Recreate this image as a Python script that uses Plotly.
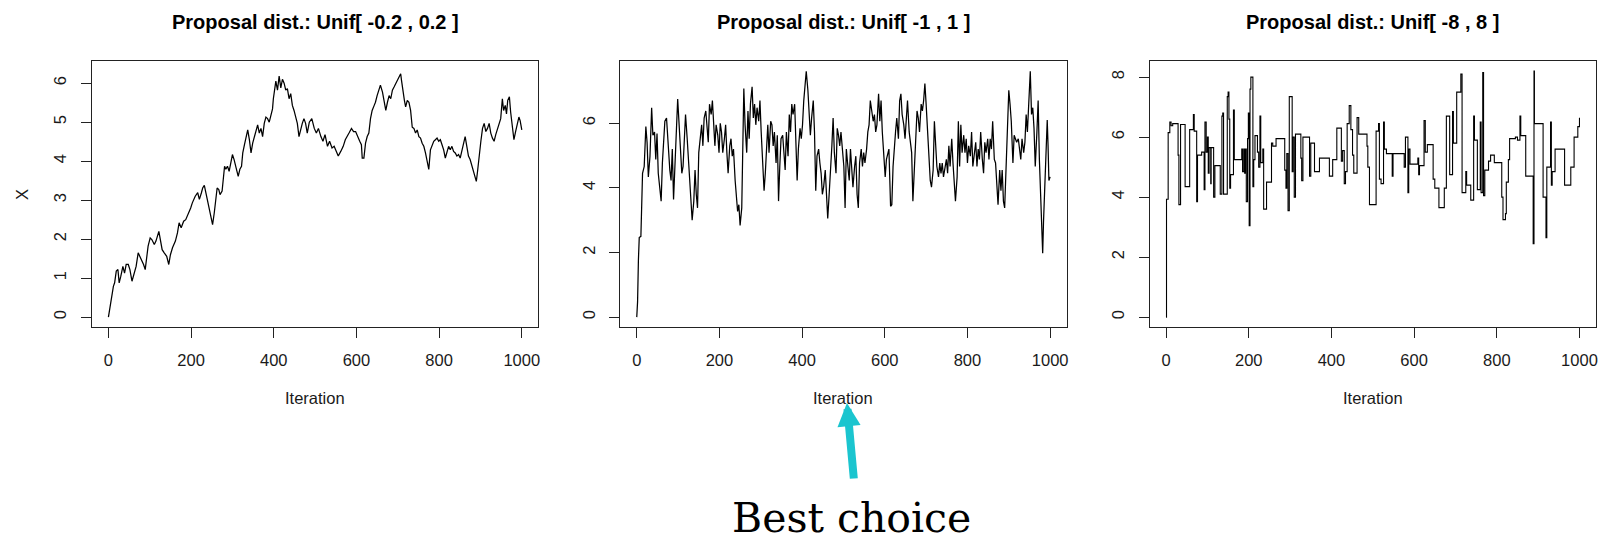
import plotly.graph_objects as go

# ---------------- data ----------------
# Panel 1: Unif[-0.2, 0.2] proposal   (iteration, X)
P1 = [(0,0),(4,0.25),(7,0.54),(12,0.79),(15,0.88),(19,1.18),(23,1.22),(26,0.88),(30,1.05),(35,1.3),
(39,1.13),(43,1.35),(48,1.35),(52,1.22),(57,0.92),(63,1.13),(67,1.3),(72,1.65),(76,1.56),(80,1.44),
(85,1.35),(89,1.22),(93,1.52),(96,1.82),(101,2.03),(105,1.99),(111,1.86),(115,1.95),(122,2.2),(126,1.9),
(130,1.73),(135,1.65),(141,1.56),(146,1.35),(150,1.6),(155,1.78),(162,1.95),(167,2.16),(171,2.42),(176,2.29),
(182,2.46),(187,2.5),(193,2.63),(199,2.8),(203,2.93),(210,3.1),(216,3.19),(220,3.02),(225,3.19),(228,3.31),
(232,3.38),(236,3.19),(240,2.93),(244,2.76),(248,2.59),(252,2.37),(256,2.67),(260,3.02),(263,3.31),(267,3.27),
(270,3.14),(275,3.23),(278,3.53),(281,3.87),(284,3.79),(288,3.87),(292,3.74),(296,3.96),(300,4.17),(304,4.04),
(307,3.87),(311,3.74),(314,3.61),(318,3.79),(322,3.87),(325,4.21),(329,4.42),(333,4.63),(337,4.8),(341,4.55),
(345,4.21),(349,4.46),(353,4.63),(357,4.8),(361,4.93),(365,4.72),(369,4.84),(373,4.63),(377,4.97),(381,5.13),
(385,5.09),(389,5.0),(393,5.17),(397,5.34),(399,5.6),(402,5.9),(405,6.05),(409,5.82),(413,6.18),(417,5.88),
(421,6.1),(425,6.0),(429,5.82),(433,5.86),(437,5.6),(441,5.73),(445,5.43),(449,5.3),(453,5.09),(457,4.97),
(461,4.63),(465,4.84),(469,4.97),(473,5.09),(477,4.97),(481,4.72),
(486,5.0),(492,5.09),(498,4.84),(503,4.72),(508,4.84),(514,4.63),(519,4.51),(524,4.68),(530,4.38),(535,4.51),
(541,4.34),(546,4.38),(552,4.21),(556,4.13),(562,4.25),(568,4.38),(573,4.55),(578,4.63),(582,4.72),(588,4.84),
(593,4.76),(598,4.76),(604,4.59),(608,4.51),(612,4.42),(614,4.08),(618,4.08),(622,4.46),(626,4.63),(630,4.72),
(634,5.09),(638,5.3),(643,5.43),(646,5.51),(650,5.68),(654,5.82),(658,5.95),(663,5.77),(667,5.56),(671,5.3),
(675,5.51),(679,5.68),(683,5.6),(687,5.82),(691,5.9),(695,5.99),(699,6.07),(703,6.15),(707,6.24),(709,6.07),
(712,5.82),(716,5.56),(719,5.39),(723,5.56),(727,5.51),(731,5.3),(735,4.87),(739,4.84),(743,4.72),(747,4.8),
(751,4.63),(755,4.59),(759,4.46),(763,4.38),(767,4.21),(771,3.95),(775,3.79),(779,4.29),(783,4.42),(787,4.51),
(791,4.55),(795,4.59),(799,4.51),(803,4.55),(807,4.42),(811,4.29),(815,4.08),(819,4.21),(823,4.38),(827,4.29),
(831,4.38),(835,4.25),(839,4.21),(843,4.13),(847,4.17),(851,4.08),(855,4.29),(859,4.42),(863,4.63),(867,4.38),
(871,4.13),(875,4.04),(879,3.87),(883,3.7),(887,3.57),(890,3.48),(893,3.74),(897,4.21),(901,4.51),(905,4.84),
(909,4.97),(913,4.76),(917,4.84),(921,4.97),(925,4.72),(929,4.59),(933,4.51),(937,4.68),(941,4.84),(945,5.0),
(949,5.09),(953,5.6),(956,5.3),(960,5.43),(963,5.21),(966,5.56),(970,5.65),(973,5.26),(976,4.97),(981,4.55),
(985,4.76),(989,4.93),(993,5.13),(996,5.04),(1000,4.8)]

# Panel 2: Unif[-1, 1] proposal   (iteration, X)
P2 = [(0,0.0),(2,0.48),(4,1.77),(6,2.46),(10,2.5),(12,3.27),(14,4.45),(18,4.66),(22,5.9),(25,5.4),
(28,4.34),(32,4.98),(36,6.48),(39,5.63),(43,5.73),(46,4.88),(49,5.68),(52,4.45),(56,3.91),(59,3.59),
(62,4.77),(65,5.52),(68,6.06),(72,6.16),(76,5.2),(80,4.55),(83,4.23),(86,5.2),(89,3.64),(93,4.88),
(96,6.16),(99,6.75),(102,6.06),(105,5.2),(109,4.45),(112,4.66),(115,5.3),(118,6.27),(122,5.52),(125,4.88),
(128,4.34),(131,3.38),(134,3.0),(138,3.59),(141,4.55),(144,3.8),(147,3.38),(150,5.09),(154,5.63),(157,5.95),
(160,5.3),(163,6.16),(167,6.38),(170,5.84),(173,5.41),(176,6.59),(180,6.27),(183,6.7),(186,6.06),(189,5.3),
(192,5.95),(196,5.63),(199,5.09),(202,6.0),(205,5.73),(208,5.09),(212,5.52),(215,5.95),(218,5.09),(221,4.45),
(225,5.3),(228,5.52),(231,4.98),(234,5.2),(238,4.23),(241,3.59),(244,3.27),(247,3.48),(250,2.84),(254,3.38),
(256,5.52),(259,7.07),(262,5.95),(266,5.09),(269,6.38),(272,5.52),(275,6.59),(279,7.13),(282,6.16),(285,6.59),
(288,5.95),(291,6.48),(295,6.06),(298,6.7),(301,5.73),(304,5.09),(308,3.91),(311,4.45),(314,5.3),(317,5.95),
(320,5.09),(324,6.06),(327,5.95),(330,5.3),(333,5.73),(337,4.77),(340,5.63),(343,3.59),(346,4.66),(349,5.52),
(353,5.63),(356,4.88),(359,4.55),(362,5.73),(366,4.98),(369,6.27),(372,5.73),(375,6.59),(378,6.27),(382,6.59),
(385,5.52),(388,4.23),(391,5.2),(395,5.84),(398,5.52),(401,5.95),(404,6.7),(407,7.13),(410,7.61),(414,7.02),
(417,6.27),(420,5.63),(423,6.16),(427,6.7),(430,5.73),(433,3.91),(436,4.98),(440,5.2),(443,4.77),(446,4.45),
(449,3.8),(452,4.02),(456,4.55),(459,3.8),(462,3.05),(465,3.7),(469,4.45),(472,5.3),(475,6.16),(478,5.09),
(482,4.45),(485,5.84),(488,5.63),(491,5.3),(494,5.73),(498,5.2),(501,4.66),(504,3.38),(507,5.2),(510,4.77),
(514,4.23),(517,5.2),(520,4.45),(523,4.02),(527,4.66),(530,4.98),(533,3.8),(536,3.38),(539,4.77),(543,5.2),
(546,4.66),(549,5.09),(552,4.77),(556,5.2),(559,5.73),(562,5.95),(565,6.7),(568,6.38),(572,6.06),(575,6.27),
(578,5.73),(581,5.95),(585,6.91),(588,6.06),(591,6.7),(594,5.73),(598,5.09),(601,4.34),(604,4.88),(607,5.09),
(610,5.2),(614,3.43),(617,3.48),(620,4.66),(623,5.3),(626,5.73),(629,6.16),(633,5.52),(636,6.7),(639,6.91),
(642,6.27),(646,5.95),(649,5.52),(652,6.06),(655,6.7),(659,5.73),(662,5.3),(665,5.09),(668,3.59),(671,4.45),
(675,5.52),(678,6.38),(681,6.16),(684,5.73),(688,6.59),(691,6.38),(694,6.7),(697,7.23),(700,6.59),(704,5.63),
(707,5.2),(710,4.23),(713,4.02),(717,4.55),(720,6.06),(723,5.3),(726,4.66),(730,4.34),(733,4.77),(736,4.45),
(739,4.77),(742,4.34),(746,4.66),(749,4.88),(752,4.45),(755,5.3),(758,4.66),(762,5.52),(765,4.77),(768,4.13),
(771,3.59),(775,4.34),(778,6.06),(781,4.66),(784,5.95),(787,5.09),(791,5.63),(794,5.09),(797,5.52),(800,4.77),
(803,5.3),(807,4.98),(810,5.73),(813,4.66),(816,5.09),(820,5.41),(823,4.66),(826,5.2),(829,4.88),(832,5.73),
(836,4.88),(839,4.45),(842,5.41),(845,5.09),(849,5.52),(852,4.88),(855,5.52),(858,5.2),(861,6.06),(865,4.88),
(868,4.77),(871,4.23),(874,3.48),(878,4.55),(881,3.91),(884,4.55),(887,3.59),(890,3.38),(894,4.66),(897,5.73),
(900,7.02),(903,6.59),(906,6.06),(910,4.77),(913,5.63),(916,5.52),(919,5.41),(923,5.52),(926,5.2),(929,4.88),
(932,5.52),(936,5.09),(939,5.41),(942,6.27),(945,5.73),(948,6.38),(952,7.61),(955,6.27),(958,6.48),(961,5.84),
(964,4.66),(968,5.73),(971,6.7),(974,4.88),(977,3.59),(980,2.41),(982,1.98),(984,2.95),(987,3.91),(990,5.09),
(993,6.1),(995,5.3),(997,4.23),(1000,4.34)]

# Panel 3: Unif[-8, 8] proposal -- chain stays put until a move is accepted
# (iteration where the value changes, new X)
P3 = [(0,0.0),(1,3.93),(5,6.15),(9,6.5),(12,6.38),(16,6.45),(29,5.4),(31,3.75),(35,6.42),(46,4.35),
(57,6.25),(66,6.75),(68,6.2),(74,3.85),(76,5.4),(86,5.5),(92,4.25),(94,6.5),(97,5.5),(100,6.0),
(102,4.8),(104,5.65),(108,4.45),(109,5.65),(115,4.0),(118,5.05),(131,4.1),(135,6.7),(137,6.8),(139,4.1),
(148,7.35),(150,7.5),(152,6.6),(154,4.3),(156,4.75),(163,6.9),(165,5.25),(183,5.6),(185,4.85),(188,5.6),
(190,4.8),(192,5.6),(194,3.85),(197,5.95),(199,6.8),(201,3.05),(203,7.6),(205,8.0),(210,4.35),(212,5.25),
(215,6.05),(221,5.5),(224,5.0),(227,6.7),(229,5.15),(234,5.6),(236,3.6),(243,4.5),(255,5.8),(258,5.7),
(266,5.95),(287,4.9),(290,4.3),(292,5.45),(295,3.55),(298,7.35),(305,4.85),(307,6.0),(310,4.0),(313,6.1),
(326,5.3),(328,4.55),(331,6.0),(347,4.7),(350,5.8),(359,4.85),(371,5.3),(395,4.7),(403,5.25),(413,6.3),
(424,5.2),(427,5.55),(431,4.45),(434,4.85),(438,6.45),(443,7.05),(447,6.25),(451,5.4),(454,4.8),(462,6.65),
(466,6.1),(486,5.7),(488,5.0),(492,3.75),(508,6.2),(514,6.45),(516,4.6),(520,4.45),(526,6.5),(528,5.6),
(533,5.45),(547,4.7),(549,5.45),(576,5.0),(579,6.0),(585,4.15),(587,5.6),(590,5.1),(609,5.3),(611,4.75),
(613,5.05),(624,6.55),(627,5.5),(632,5.75),(646,4.6),(650,4.3),(660,3.65),(673,4.3),(678,6.7),(686,4.75),
(693,6.85),(695,5.8),(703,7.5),(713,8.1),(716,4.15),(725,4.85),(727,4.4),(737,3.9),(744,6.7),(746,5.9),
(753,4.25),(760,6.5),(762,4.15),(766,8.15),(768,4.05),(771,4.9),(780,5.2),(785,5.4),(794,5.15),(812,4.0),
(815,3.25),(821,3.45),(823,4.5),(828,5.25),(831,5.95),(845,6.0),(850,5.9),(856,6.7),(858,6.05),(870,4.7),
(888,2.45),(890,8.2),(891,6.45),(912,4.0),(919,2.65),(921,5.0),(930,6.5),(932,4.4),(934,4.85),(941,5.6),
(964,4.4),(979,5.0),(987,6.0),(996,6.35),(1000,6.65)]

TITLES = ["Proposal dist.: Unif[ -0.2 , 0.2 ]",
          "Proposal dist.: Unif[ -1 , 1 ]",
          "Proposal dist.: Unif[ -8 , 8 ]"]
X_TICKS = [0, 200, 400, 600, 800, 1000]
Y_TICKS = [[0, 1, 2, 3, 4, 5, 6], [0, 2, 4, 6], [0, 2, 4, 6, 8]]
Y_RANGES = [[-0.253, 6.568], [-0.305, 7.925], [-0.328, 8.538]]

# ---------------- layout geometry (pixels) ----------------
W, H = 1601, 542
BOX_LEFT = [92, 621, 1151]
BOX_W = 447
BOX_TOP, BOX_BOT = 61, 327

def px(x):
    return x / W

def py(y):
    return 1 - y / H

FONT = "Liberation Sans, Arial, sans-serif"
TXT = "#1a1a1a"

fig = go.Figure()
series = [P1, P2, P3]
shapes = ["linear", "linear", "hv"]
widths = [1.25, 1.25, 1.1]
for i, (data, shp, lw) in enumerate(zip(series, shapes, widths)):
    its = [p[0] for p in data]
    vals = [p[1] for p in data]
    fig.add_trace(go.Scatter(
        x=its, y=vals, mode="lines",
        line=dict(color="black", width=lw, shape=shp),
        xaxis="x" if i == 0 else f"x{i+1}",
        yaxis="y" if i == 0 else f"y{i+1}",
        showlegend=False, hoverinfo="skip"))

layout = dict(
    width=W, height=H,
    margin=dict(l=0, r=0, t=0, b=0),
    paper_bgcolor="white", plot_bgcolor="white",
    showlegend=False,
)

annotations = []
for i in range(3):
    sx = "" if i == 0 else str(i + 1)
    l = BOX_LEFT[i]
    layout["xaxis" + sx] = dict(
        domain=[px(l), px(l + BOX_W)], anchor="y" + sx,
        range=[-40, 1040], tickmode="array", tickvals=X_TICKS,
        ticktext=[str(t) for t in X_TICKS],
        ticks="outside", ticklen=10, tickwidth=1, tickcolor="#222",
        showline=True, linecolor="#222", linewidth=1, mirror=True,
        showgrid=False, zeroline=False,
        tickfont=dict(family=FONT, size=16.5, color=TXT),
        ticklabelstandoff=8,
    )
    layout["yaxis" + sx] = dict(
        domain=[py(BOX_BOT), py(BOX_TOP)], anchor="x" + sx,
        range=Y_RANGES[i], tickmode="array", tickvals=Y_TICKS[i],
        ticktext=[str(t) for t in Y_TICKS[i]],
        ticks="outside", ticklen=10, tickwidth=1, tickcolor="#222",
        showline=True, linecolor="#222", linewidth=1, mirror=True,
        showgrid=False, zeroline=False, tickangle=-90,
        tickfont=dict(family=FONT, size=16.5, color=TXT),
        ticklabelstandoff=8,
    )
    cx = l + BOX_W / 2
    annotations.append(dict(
        text=TITLES[i], x=px(cx), y=py(22), xref="paper", yref="paper",
        xanchor="center", yanchor="middle", showarrow=False,
        font=dict(family=FONT, size=20, color="black", weight="bold")))
    annotations.append(dict(
        text="Iteration", x=px(cx), y=py(398), xref="paper", yref="paper",
        xanchor="center", yanchor="middle", showarrow=False,
        font=dict(family=FONT, size=16.5, color=TXT)))

annotations.append(dict(
    text="X", x=px(22), y=py((BOX_TOP + BOX_BOT) / 2), xref="paper", yref="paper",
    xanchor="center", yanchor="middle", showarrow=False, textangle=-90,
    font=dict(family=FONT, size=16.5, color=TXT)))

# cyan arrow pointing at the middle panel's axis title
annotations.append(dict(
    text="", x=px(848), y=py(403), xref="paper", yref="paper",
    ax=7, ay=77, axref="pixel", ayref="pixel",
    showarrow=True, arrowhead=2, arrowsize=0.58, arrowwidth=8,
    arrowcolor="#1BC5CF"))
annotations.append(dict(
    text="Best choice", x=px(853), y=py(518), xref="paper", yref="paper",
    xanchor="center", yanchor="middle", showarrow=False,
    font=dict(family="DejaVu Serif, serif", size=41, color="black")))

layout["annotations"] = annotations
fig.update_layout(**layout)
fig.write_html("out.html", config={"displayModeBar": False})
